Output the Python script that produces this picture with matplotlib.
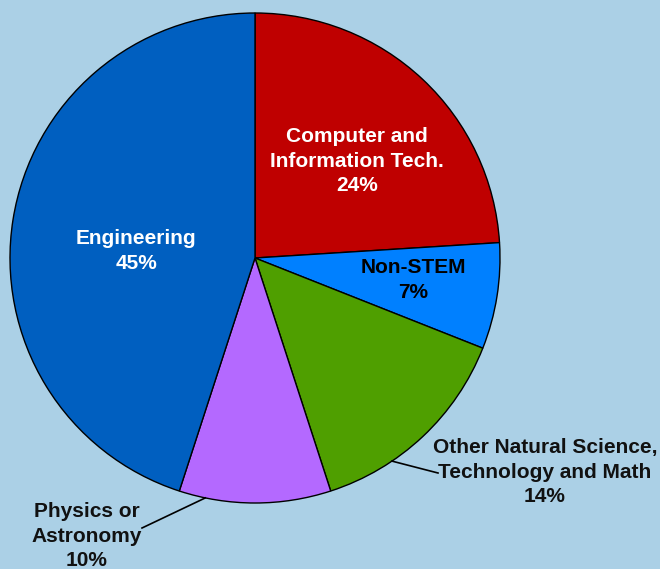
import numpy as np
import matplotlib
matplotlib.use("Agg")
import matplotlib.pyplot as plt

categories = ["Computer and\nInformation Tech.", "Non-STEM",
              "Other Natural Science,\nTechnology and Math",
              "Physics or\nAstronomy", "Engineering"]
shares = [24, 7, 14, 10, 45]
colors = ["#bf0000", "#0080ff", "#4f9f00", "#b469ff", "#005fc0"]
text_colors = ["white", "black", "#111111", "#111111", "white"]

W, H = 660, 569
bg = "#abd0e6"
fig = plt.figure(figsize=(W / 100, H / 100), dpi=100, facecolor=bg)
ax = fig.add_axes([0, 0, 1, 1])
ax.set_facecolor(bg)
ax.set_xlim(0, W)
ax.set_ylim(0, H)
ax.set_aspect("equal")
ax.axis("off")

cx, cy, R = 255, H - 258, 245
ax.pie(shares, colors=colors, startangle=90, counterclock=False,
       center=(cx, cy), radius=R,
       wedgeprops=dict(edgecolor="black", linewidth=1.0))
ax.set_xlim(0, W)
ax.set_ylim(0, H)

# label layout (pixel positions in figure)
label_pos = [(357, 161), (413, 280), (545, 472), (87, 536), (136, 251)]
leader_angle = [None, None, -56, -101.7, None]
leader_end = [None, None, (438, 473), (142, 528), None]

for cat, val, tc, (px, py), ang, le in zip(categories, shares, text_colors,
                                           label_pos, leader_angle, leader_end):
    if ang is not None:
        a = np.deg2rad(ang)
        x0, y0 = cx + R * np.cos(a), cy + R * np.sin(a)
        ax.plot([x0, le[0]], [y0, H - le[1]], color="black", lw=1.2, zorder=1)
    ax.text(px, H - py, f"{cat}\n{val}%", ha="center", va="center",
            color=tc, fontsize=15, fontweight="bold",
            family="Liberation Sans", linespacing=1.38, zorder=5)

fig.savefig("out.png", dpi=100, facecolor=bg)
